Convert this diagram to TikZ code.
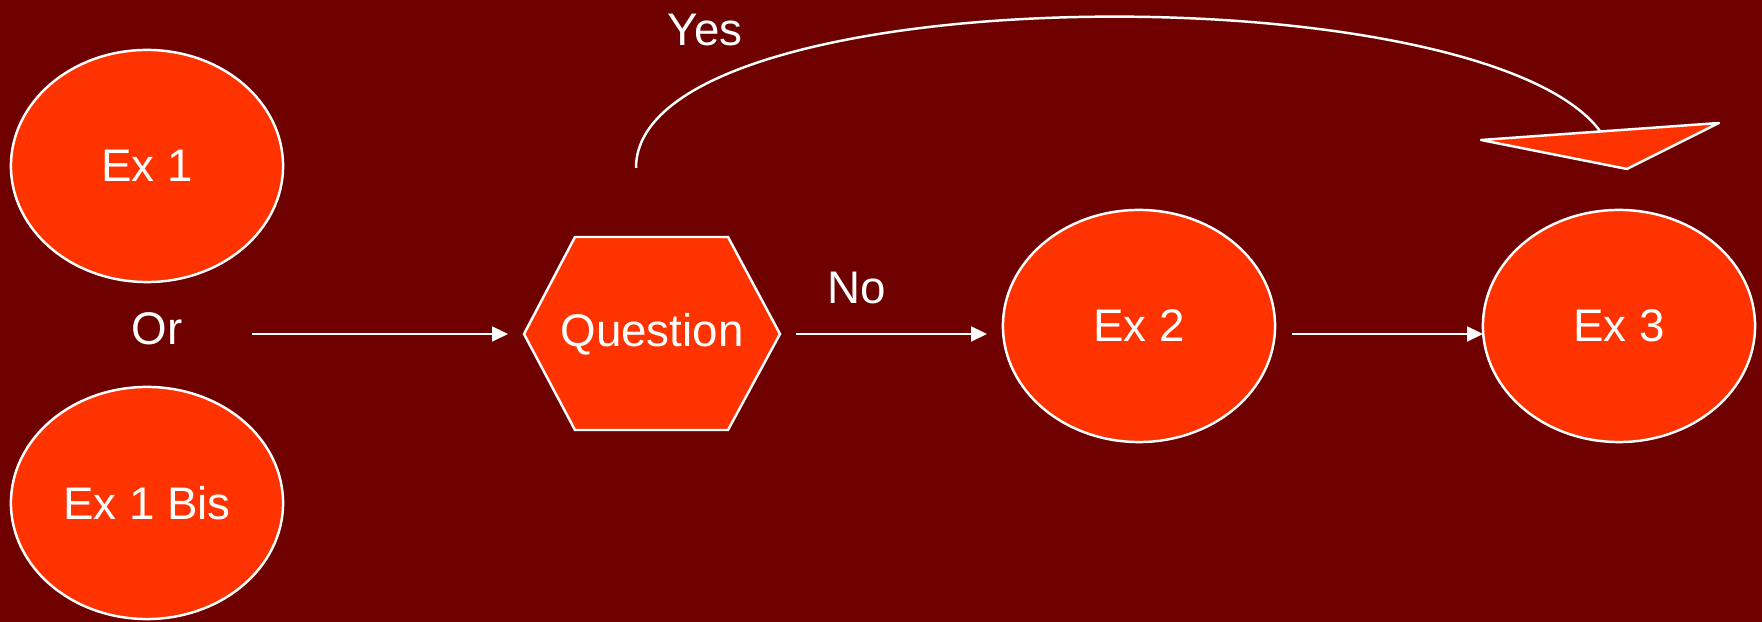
\documentclass[tikz,border=0pt]{standalone}
\usepackage{fontspec}
\setmainfont{Liberation Sans}
\usetikzlibrary{shapes.geometric,arrows.meta}
\definecolor{bgred}{HTML}{6E0000}
\definecolor{orng}{HTML}{FF3300}
\tikzset{
  exnode/.style={ellipse,draw=white,fill=orng,line width=0.7pt,minimum width=2.72cm,minimum height=2.32cm,inner sep=0pt,text=white,font=\fontsize{13}{16}\selectfont},
  lbl/.style={text=white,font=\fontsize{13}{16}\selectfont,inner sep=0pt},
  hexshape/.style={draw=white,fill=orng,line width=0.7pt,line join=miter},
  tipshape/.style={draw=white,fill=orng,line width=0.7pt,line join=round},
  conn/.style={draw=white,line width=0.7pt,-{Triangle[length=4.5pt,width=4.2pt]}},
  curveline/.style={draw=white,line width=0.7pt}
}
\begin{document}
\begin{tikzpicture}[x=0.01cm,y=-0.01cm]
\fill[bgred] (0,0) rectangle (1762,622);
\useasboundingbox (0,0) rectangle (1762,622);
% nodes
\node[exnode] (ex1) at (147,166) {Ex 1};
\node[exnode] (ex1b) at (147,503) {Ex 1 Bis};
\node[lbl] (or) at (157,329) {Or};
\draw[hexshape] (524,334) -- (575,237) -- (728,237) -- (780,334) -- (728,430) -- (575,430) -- cycle;
\node[lbl] (q) at (652,334) {Question};
\node[exnode] (ex2) at (1139,326) {Ex 2};
\node[exnode] (ex3) at (1619,326) {Ex 3};
\node[lbl] (no) at (857,288) {No};
\node[lbl] (yes) at (705,30) {Yes};
% connector ends
\coordinate (a1s) at (252,334);
\coordinate (a1e) at (508,334);
\coordinate (a2s) at (796,334);
\coordinate (a2e) at (987,334);
\coordinate (a3s) at (1292,334);
\coordinate (a3e) at (1483,334);
\coordinate (ys) at (636,168);
\coordinate (ye) at (1600,131);
\draw[conn] (a1s) -- (a1e);
\draw[conn] (a2s) -- (a2e);
\draw[conn] (a3s) -- (a3e);
\draw[curveline] (ys) .. controls (636,-24) and (1480,-30) .. (ye);
\draw[tipshape] (1481,140) -- (1719,123) -- (1627,169) -- cycle;
\end{tikzpicture}
\end{document}
